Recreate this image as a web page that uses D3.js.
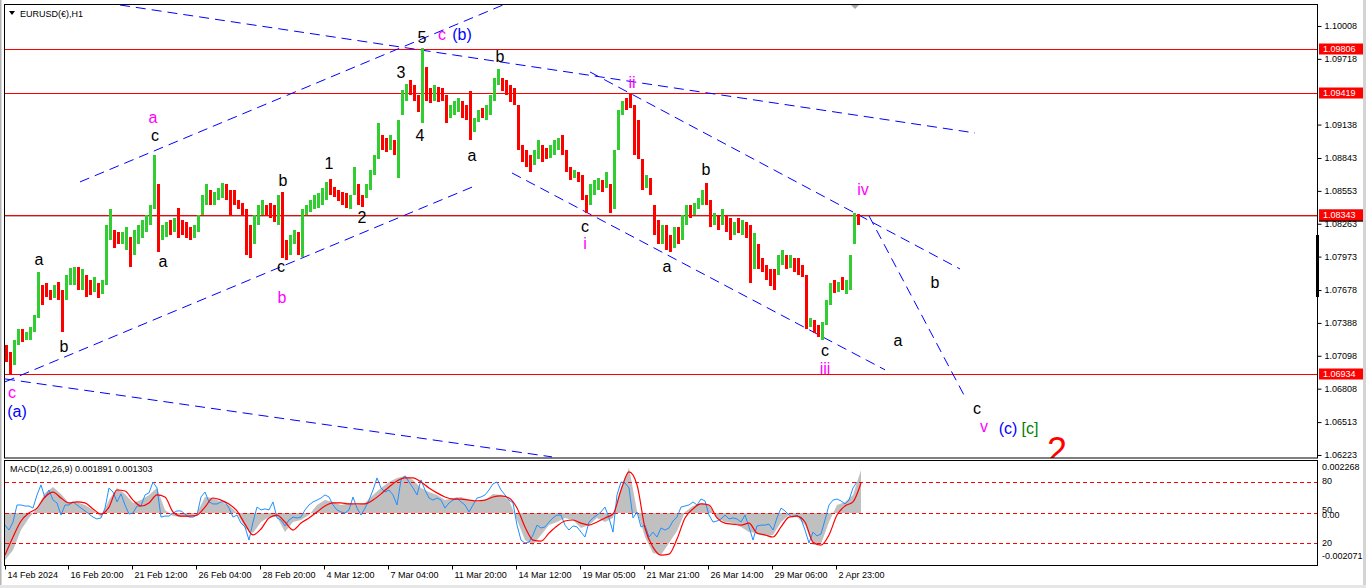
<!DOCTYPE html>
<html><head><meta charset="utf-8">
<script src="https://cdn.jsdelivr.net/npm/d3@7"></script>
<style>
html,body{margin:0;padding:0;background:#fff;overflow:hidden}
svg{display:block;font-family:"Liberation Sans",Arial,sans-serif}
</style></head><body>
<svg id="c" width="1366" height="588"></svg>
<script>
// ---------- DATA (EURUSD H1, each item = 4 hourly bars) ----------
const highs = [
1.0719,1.0713,1.0724,1.0733,1.0733,1.0731,1.0735,1.0746,1.0784,1.0772,
1.0774,1.0768,1.0772,1.0775,1.0768,1.0781,1.0787,1.0788,1.0788,1.0786,
1.0781,1.0777,1.0779,1.0774,1.0777,1.0825,1.0839,1.0821,1.0819,1.0819,
1.0823,1.0815,1.0821,1.0825,1.0830,1.0834,1.0843,1.0887,1.0861,1.0825,
1.0828,1.0830,1.0831,1.0840,1.0830,1.0828,1.0823,1.0825,1.0834,1.0852,
1.0861,1.0856,1.0854,1.0858,1.0862,1.0861,1.0856,1.0856,1.0847,1.0845,
1.0839,1.0825,1.0834,1.0843,1.0847,1.0843,1.0845,1.0843,1.0852,1.0854,
1.0812,1.0816,1.0821,1.0819,1.0839,1.0843,1.0847,1.0852,1.0853,1.0858,
1.0863,1.0866,1.0859,1.0856,1.0854,1.0853,1.0852,1.0876,1.0861,1.0852,
1.0861,1.0874,1.0887,1.0915,1.0905,1.0902,1.0905,1.0900,1.0918,1.0944,
1.0950,1.0953,1.0949,1.0940,1.0981,1.0965,1.0946,1.0949,1.0947,1.0946,
1.0940,1.0931,1.0935,1.0937,1.0935,1.0931,1.0943,1.0920,1.0927,1.0928,
1.0931,1.0940,1.0955,1.0963,1.0955,1.0953,1.0949,1.0946,1.0931,1.0896,
1.0891,1.0887,1.0891,1.0900,1.0896,1.0893,1.0896,1.0900,1.0902,1.0905,
1.0891,1.0876,1.0874,1.0872,1.0869,1.0852,1.0861,1.0865,1.0867,1.0865,
1.0872,1.0861,1.0891,1.0927,1.0935,1.0937,1.0942,1.0931,1.0918,1.0883,
1.0869,1.0867,1.0843,1.0830,1.0825,1.0825,1.0816,1.0823,1.0823,1.0834,
1.0843,1.0843,1.0845,1.0849,1.0856,1.0862,1.0847,1.0836,1.0834,1.0839,
1.0834,1.0831,1.0828,1.0831,1.0830,1.0828,1.0825,1.0818,1.0808,1.0796,
1.0790,1.0786,1.0786,1.0799,1.0803,1.0799,1.0799,1.0796,1.0796,1.0790,
1.0781,1.0743,1.0741,1.0737,1.0740,1.0759,1.0774,1.0777,1.0775,1.0779,
1.0777,1.0799,1.0836,1.0835];
const lows = [
1.0704,1.0694,1.0702,1.0719,1.0722,1.0724,1.0724,1.0731,1.0743,1.0755,
1.0762,1.0759,1.0761,1.0759,1.0731,1.0759,1.0772,1.0772,1.0768,1.0768,
1.0762,1.0763,1.0766,1.0761,1.0764,1.0772,1.0812,1.0805,1.0808,1.0808,
1.0803,1.0788,1.0799,1.0808,1.0814,1.0819,1.0825,1.0839,1.0801,1.0812,
1.0815,1.0816,1.0819,1.0814,1.0816,1.0814,1.0812,1.0814,1.0819,1.0834,
1.0843,1.0843,1.0843,1.0847,1.0849,1.0847,1.0834,1.0843,1.0839,1.0834,
1.0799,1.0796,1.0808,1.0825,1.0834,1.0834,1.0831,1.0828,1.0825,1.0796,
1.0794,1.0799,1.0808,1.0799,1.0797,1.0834,1.0837,1.0839,1.0840,1.0843,
1.0847,1.0852,1.0850,1.0846,1.0843,1.0840,1.0839,1.0852,1.0843,1.0841,
1.0849,1.0856,1.0869,1.0883,1.0891,1.0890,1.0891,1.0887,1.0867,1.0922,
1.0935,1.0940,1.0935,1.0925,1.0915,1.0935,1.0933,1.0935,1.0934,1.0935,
1.0915,1.0920,1.0922,1.0925,1.0920,1.0918,1.0900,1.0907,1.0916,1.0920,
1.0918,1.0922,1.0935,1.0949,1.0943,1.0940,1.0934,1.0931,1.0891,1.0881,
1.0876,1.0872,1.0878,1.0883,1.0881,1.0883,1.0884,1.0887,1.0891,1.0887,
1.0872,1.0865,1.0867,1.0863,1.0847,1.0836,1.0843,1.0852,1.0856,1.0854,
1.0858,1.0836,1.0839,1.0891,1.0922,1.0927,1.0928,1.0887,1.0883,1.0856,
1.0858,1.0852,1.0816,1.0808,1.0808,1.0803,1.0801,1.0805,1.0808,1.0812,
1.0825,1.0831,1.0834,1.0839,1.0843,1.0843,1.0823,1.0825,1.0821,1.0825,
1.0819,1.0812,1.0816,1.0818,1.0816,1.0814,1.0774,1.0786,1.0786,1.0784,
1.0777,1.0771,1.0768,1.0781,1.0790,1.0786,1.0787,1.0784,1.0781,1.0779,
1.0733,1.0735,1.0730,1.0726,1.0724,1.0737,1.0755,1.0765,1.0766,1.0768,
1.0764,1.0768,1.0808,1.0825];
const dirs = (
"d d u u d u u u u d " + "d d u d d u u u d u " + "d d u d u u u d d u " + "u d u u u u u u d u " +
"u d u d d d d u u u " + "u d u u u d d d d d " + "d d u u u d d d u d " + "d u u d u u u u u u " +
"u d d d d d u u d d " + "u u u u d d u d u u " + "u d d d u d d u d d " + "d u u u d d d u u d " +
"u u u u d d d d d d " + "d d u u d d u u u d " + "d d u d d d u u u d " + "u d u u u d d d d d " +
"u d d d u d d u d u " + "u d u u u d d u d u " + "d d u d u d d u d d " + "d d d u u d u d d d " +
"d u d d u u u d u d " + "u u u d").trim().split(/\s+/);

// MACD panel (histogram + signal every 8 bars, fast line every 4 bars)
const macdHist = [
-0.00229,-0.00181,-0.00083,-0.00024,0.00024,0.00098,0.00127,0.00093,0.00049,0.00054,
0.00039,0.00015,-0.00020,0.00063,0.00122,0.00093,0.00049,0.00063,0.00088,0.00122,
0.00015,-0.00015,-0.00020,-0.00020,0.00000,0.00078,0.00073,0.00054,0.00039,0.00000,
-0.00073,-0.00098,-0.00044,-0.00020,-0.00020,-0.00093,-0.00044,-0.00034,-0.00010,0.00039,
0.00063,0.00054,0.00039,0.00049,0.00039,0.00049,0.00088,0.00122,0.00151,0.00171,
0.00181,0.00161,0.00122,0.00102,0.00088,0.00063,0.00073,0.00078,0.00063,0.00054,
0.00063,0.00093,0.00088,0.00063,-0.00034,-0.00132,-0.00156,-0.00107,-0.00059,-0.00044,
-0.00024,-0.00034,-0.00073,-0.00059,-0.00024,-0.00044,-0.00024,0.00122,0.00220,0.00010,
-0.00117,-0.00195,-0.00205,-0.00146,-0.00088,0.00005,0.00034,0.00049,0.00039,-0.00024,
-0.00044,-0.00049,-0.00068,-0.00093,-0.00098,-0.00112,-0.00107,-0.00044,-0.00010,-0.00020,
-0.00059,-0.00156,-0.00151,-0.00044,0.00039,0.00054,0.00088,0.00210];
const macdSignal = [
-0.00205,-0.00117,-0.00039,0.00000,0.00024,0.00078,0.00102,0.00073,0.00049,0.00054,
0.00049,0.00020,-0.00005,0.00029,0.00112,0.00107,0.00063,0.00034,0.00049,0.00088,
0.00078,0.00005,-0.00015,-0.00015,-0.00010,0.00029,0.00073,0.00063,0.00044,0.00010,
-0.00054,-0.00107,-0.00078,-0.00024,-0.00010,-0.00044,-0.00083,-0.00049,-0.00024,0.00005,
0.00034,0.00049,0.00049,0.00044,0.00044,0.00044,0.00063,0.00093,0.00127,0.00156,
0.00171,0.00171,0.00151,0.00122,0.00098,0.00078,0.00068,0.00068,0.00063,0.00059,
0.00063,0.00078,0.00083,0.00073,0.00024,-0.00068,-0.00132,-0.00137,-0.00098,-0.00063,
-0.00039,-0.00034,-0.00049,-0.00059,-0.00044,-0.00024,-0.00005,0.00112,0.00200,0.00137,
-0.00073,-0.00166,-0.00205,-0.00200,-0.00127,-0.00024,0.00020,0.00044,0.00039,-0.00024,
-0.00049,-0.00054,-0.00059,-0.00049,-0.00098,-0.00107,-0.00117,-0.00068,-0.00020,-0.00015,
-0.00044,-0.00142,-0.00156,-0.00107,-0.00010,0.00034,0.00054,0.00146];
const macdFast = [
-0.00059,-0.00083,-0.00044,0.00039,0.00039,0.00034,0.00034,0.00024,0.00088,0.00137,
0.00073,0.00112,0.00063,0.00049,-0.00010,0.00039,0.00039,0.00054,0.00039,0.00024,
0.00010,-0.00005,-0.00020,-0.00029,-0.00024,0.00024,0.00122,0.00102,0.00054,0.00093,
0.00039,-0.00005,0.00000,0.00034,0.00034,0.00088,0.00098,0.00151,0.00122,-0.00020,
-0.00015,-0.00015,0.00000,0.00010,0.00010,-0.00005,-0.00020,-0.00020,-0.00010,0.00078,
0.00102,0.00054,0.00044,0.00044,0.00054,0.00054,0.00024,-0.00020,-0.00010,-0.00049,
-0.00068,-0.00132,-0.00044,0.00029,0.00015,0.00020,0.00015,0.00054,-0.00024,-0.00034,
-0.00063,-0.00034,-0.00020,-0.00024,-0.00020,0.00015,0.00039,0.00054,0.00063,0.00073,
0.00088,0.00078,0.00039,0.00015,0.00005,0.00000,0.00015,0.00078,0.00024,-0.00010,
0.00024,0.00063,0.00112,0.00171,0.00122,0.00102,0.00112,0.00088,0.00039,0.00161,
0.00181,0.00151,0.00122,0.00088,0.00161,0.00112,0.00073,0.00063,0.00073,0.00063,
0.00024,0.00049,0.00063,0.00073,0.00054,0.00039,0.00005,0.00039,0.00073,0.00078,
0.00088,0.00112,0.00142,0.00151,0.00112,0.00088,0.00063,0.00049,-0.00059,-0.00132,
-0.00146,-0.00142,-0.00107,-0.00059,-0.00073,-0.00068,-0.00044,-0.00024,-0.00010,-0.00010,
-0.00059,-0.00083,-0.00063,-0.00068,-0.00093,-0.00117,-0.00044,-0.00024,-0.00010,0.00005,
0.00029,-0.00024,-0.00093,0.00088,0.00151,0.00146,0.00122,-0.00024,0.00005,-0.00068,
-0.00059,-0.00117,-0.00093,-0.00117,-0.00073,-0.00083,-0.00073,-0.00039,-0.00020,0.00029,
0.00034,0.00039,0.00054,0.00039,0.00068,0.00059,-0.00010,-0.00044,-0.00039,-0.00029,
-0.00010,-0.00029,-0.00024,-0.00029,-0.00044,-0.00010,-0.00068,-0.00132,-0.00063,-0.00059,
-0.00059,-0.00054,-0.00083,-0.00024,0.00024,0.00010,-0.00010,-0.00020,-0.00010,-0.00029,
-0.00083,-0.00146,-0.00093,-0.00112,-0.00102,-0.00034,0.00039,0.00063,0.00068,0.00059,
0.00044,0.00063,0.00122,0.00151];

const priceTicks = [1.10008,1.09718,1.09138,1.08843,1.08553,1.08263,1.07973,1.07678,1.07388,1.07098,1.06808,1.06513,1.06223];
const levelPrices = [1.09806,1.09419,1.08343,1.06934];
const dateLabels = ["14 Feb 2024","16 Feb 20:00","21 Feb 12:00","26 Feb 04:00","28 Feb 20:00","4 Mar 12:00","7 Mar 04:00","11 Mar 20:00","14 Mar 12:00","19 Mar 05:00","21 Mar 21:00","26 Mar 14:00","29 Mar 06:00","2 Apr 23:00"];
const dateBars = [0,63,127,191,255,319,383,447,511,575,639,703,767,831];
const macdAxisVals = [0.002268,0,-0.002071];
const macdAxisText = ["0.002268","0.00","-0.002071"];
const levelVals = [80,50,20];

// annotations (bar index, price)
const trendLines = [
 [[115,1.10193],[970,1.09064]],
 [[75,1.08632],[498,1.10193]],
 [[0,1.06868],[470,1.08597]],
 [[0,1.06894],[547,1.06206]],
 [[507,1.08711],[880,1.06974]],
 [[585,1.09602],[955,1.07864]],
 [[864,1.08332],[960,1.06735]]
];
const waveLabels = [
 [417,1.09858,"5","#000"],[437,1.09884,"c","#ff00ff"],[457,1.09884,"(b)","#0000ff"],
 [495,1.09690,"b","#000"],[627,1.09461,"ii","#ff00ff"],[396,1.09549,"3","#000"],
 [415,1.08993,"4","#000"],[467,1.08817,"a","#000"],[148,1.09152,"a","#ff00ff"],
 [150,1.08993,"c","#000"],[324,1.08746,"1","#000"],[278,1.08596,"b","#000"],
 [357,1.08270,"2","#000"],[34,1.07900,"a","#000"],[158,1.07882,"a","#000"],
 [276,1.07838,"c","#000"],[277,1.07564,"b","#ff00ff"],[59,1.07132,"b","#000"],
 [7,1.06727,"c","#ff00ff"],[12,1.06559,"(a)","#0000ff"],[580,1.08191,"c","#000"],
 [580,1.08040,"i","#ff00ff"],[662,1.07838,"a","#000"],[701,1.08694,"b","#000"],
 [858,1.08517,"iv","#ff00ff"],[820,1.07097,"c","#000"],[820,1.06940,"iii","#ff00ff"],
 [930,1.07697,"b","#000"],[893,1.07185,"a","#000"],[972,1.06585,"c","#000"],
 [979,1.06427,"v","#ff00ff"],[1003,1.06409,"(c)","#0000ff"],[1025,1.06409,"[c]","#008000"]
];
const bigLabel = [1052,1.06153,"2","#ff0000"];

// ---------- DRAW ----------
const BAR_STEP = 4, MACD_STEP = 8, FAST_STEP = 4;
const svg = d3.select("#c");
const xBar = d3.scaleLinear().domain([0,1312]).range([5,1317]);
const yPrice = d3.scaleLinear().domain([1.06205,1.10193]).range([457,5]);
const yMacd = d3.scaleLinear().domain([-0.002484,0.002533]).range([564,461]);
const yLevel = d3.scaleLinear().domain([0,100]).range([564,461]);

// window chrome
svg.append("rect").attr("x",0).attr("y",0).attr("width",1366).attr("height",588).attr("fill","#fff");
svg.append("rect").attr("x",0).attr("y",0).attr("width",1.5).attr("height",588).attr("fill","#b4b4b4");
svg.append("rect").attr("x",1363).attr("y",0).attr("width",3).attr("height",588).attr("fill","#d4d4d4");
svg.append("rect").attr("x",0).attr("y",585).attr("width",1366).attr("height",3).attr("fill","#e6e6e6");

const defs = svg.append("defs");
defs.append("clipPath").attr("id","cm").append("rect").attr("x",5).attr("y",5).attr("width",1312).attr("height",453);
defs.append("clipPath").attr("id","cd").append("rect").attr("x",5).attr("y",461).attr("width",1312).attr("height",104);

const gMain = svg.append("g").attr("clip-path","url(#cm)");
const gMacd = svg.append("g").attr("clip-path","url(#cd)");

// horizontal levels
gMain.append("line").attr("x1",5).attr("x2",1317)
  .attr("y1",Math.round(yPrice(1.08330))+0.5).attr("y2",Math.round(yPrice(1.08330))+0.5)
  .attr("stroke","#b8b8b8").attr("stroke-width",1);
gMain.selectAll("line.lvl").data(levelPrices).join("line").attr("class","lvl")
  .attr("x1",5).attr("x2",1317)
  .attr("y1",d=>Math.round(yPrice(d))+0.5).attr("y2",d=>Math.round(yPrice(d))+0.5)
  .attr("stroke","#ff0000").attr("stroke-width",1);

// trend lines
gMain.selectAll("line.tl").data(trendLines).join("line").attr("class","tl")
  .attr("x1",d=>xBar(d[0][0])).attr("y1",d=>yPrice(d[0][1]))
  .attr("x2",d=>xBar(d[1][0])).attr("y2",d=>yPrice(d[1][1]))
  .attr("stroke","#0000ff").attr("stroke-width",1).attr("stroke-dasharray","10,6");

// price bars
const items = highs.map((h,i)=>({i,h,l:lows[i],up:dirs[i]==="u"}));
gMain.selectAll("rect.bar").data(items).join("rect").attr("class","bar")
  .attr("x",d=>xBar(d.i*BAR_STEP)).attr("width",3)
  .attr("y",d=>yPrice(d.h))
  .attr("height",d=>Math.max(1,yPrice(d.l)-yPrice(d.h)))
  .attr("fill",d=>d.up?"#32cd32":"#ff0000")
  .attr("shape-rendering","crispEdges");

// wave labels
gMain.selectAll("text.wl").data(waveLabels).join("text").attr("class","wl")
  .attr("x",d=>xBar(d[0])).attr("y",d=>yPrice(d[1]))
  .attr("text-anchor","middle").attr("font-size",16).attr("fill",d=>d[3]).text(d=>d[2]);
gMain.append("text").attr("x",xBar(bigLabel[0])).attr("y",yPrice(bigLabel[1]))
  .attr("text-anchor","middle").attr("font-size",36).attr("fill",bigLabel[3]).text(bigLabel[2]);

// top marker + title
svg.append("path").attr("d","M851,5L859,5L855,9Z").attr("fill","#a8a8a8");
svg.append("path").attr("d","M9,11L15,11L12,15Z").attr("fill","#000");
svg.append("text").attr("x",20).attr("y",17).attr("font-size",9).attr("fill","#000").text("EURUSD(€),H1");

// frames
svg.append("rect").attr("x",4.5).attr("y",4.5).attr("width",1313).attr("height",453.5)
  .attr("fill","none").attr("stroke","#000");
svg.append("rect").attr("x",4.5).attr("y",460.5).attr("width",1313).attr("height",105)
  .attr("fill","none").attr("stroke","#000");

// price axis
const pa = svg.append("g").attr("transform","translate(1317.5,0)")
  .call(d3.axisRight(yPrice).tickValues(priceTicks).tickFormat(d3.format(".5f")).tickSize(4).tickPadding(3));
pa.select(".domain").remove();
pa.selectAll("text").attr("font-size",9).attr("font-family","Liberation Sans, Arial, sans-serif").attr("fill","#000");
pa.selectAll("line").attr("stroke","#000");

// ask/bid markers on axis
svg.append("rect").attr("x",1316).attr("y",235).attr("width",3).attr("height",62).attr("fill","#000");
svg.append("rect").attr("x",1319).attr("y",yPrice(1.08343)-5).attr("width",44).attr("height",12).attr("fill","#000");
const lv = svg.selectAll("g.lvlab").data(levelPrices).join("g").attr("class","lvlab")
  .attr("transform",d=>`translate(1319,${Math.round(yPrice(d))})`);
lv.append("rect").attr("x",0).attr("y",-5.5).attr("width",44).attr("height",11).attr("fill","#ff0000");
lv.append("text").attr("x",4).attr("y",0).attr("dy","0.35em").attr("font-size",9).attr("fill","#fff").text(d=>d3.format(".5f")(d));

// MACD panel
gMacd.append("path").datum(macdHist)
  .attr("d",d3.area().x((d,i)=>xBar(i*MACD_STEP)).y0(yMacd(0)).y1(d=>yMacd(d)))
  .attr("fill","#c0c0c0");
gMacd.selectAll("line.ml").data(levelVals).join("line").attr("class","ml")
  .attr("x1",5).attr("x2",1317)
  .attr("y1",d=>Math.round(yLevel(d))+0.5).attr("y2",d=>Math.round(yLevel(d))+0.5)
  .attr("stroke","#ff0000").attr("stroke-dasharray","4,3");
gMacd.append("path").datum(macdFast)
  .attr("d",d3.line().x((d,i)=>xBar(i*FAST_STEP)).y(d=>yMacd(d)))
  .attr("fill","none").attr("stroke","#1e90ff").attr("stroke-width",1);
gMacd.append("path").datum(macdSignal)
  .attr("d",d3.line().curve(d3.curveMonotoneX).x((d,i)=>xBar(i*MACD_STEP)).y(d=>yMacd(d)))
  .attr("fill","none").attr("stroke","#ff0000").attr("stroke-width",1.2);
svg.append("text").attr("x",10).attr("y",472).attr("font-size",9).attr("fill","#000")
  .text("MACD(12,26,9) 0.001891 0.001303");

svg.selectAll("text.mx").data(macdAxisVals).join("text").attr("class","mx")
  .attr("x",1322).attr("y",d=>yMacd(d)+(d===0?2:0)).attr("dy","0.35em").attr("font-size",9).attr("fill","#000")
  .text((d,i)=>macdAxisText[i]);
svg.selectAll("text.lx").data(levelVals).join("text").attr("class","lx")
  .attr("x",1322).attr("y",d=>yLevel(d)-(d===50?3:1)).attr("dy","0.35em").attr("font-size",9).attr("fill","#000")
  .text(d=>d);

// time axis
const ta = svg.append("g").attr("transform","translate(0,565.5)")
  .call(d3.axisBottom(xBar).tickValues(dateBars).tickFormat((d,i)=>dateLabels[i]).tickSize(4));
ta.select(".domain").remove();
ta.selectAll("line").attr("stroke","#000");
ta.selectAll("text").attr("text-anchor","start").attr("x",2).attr("y",12.5).attr("dy","0")
  .attr("font-size",9).attr("font-family","Liberation Sans, Arial, sans-serif").attr("fill","#000");
</script>
</body></html>
